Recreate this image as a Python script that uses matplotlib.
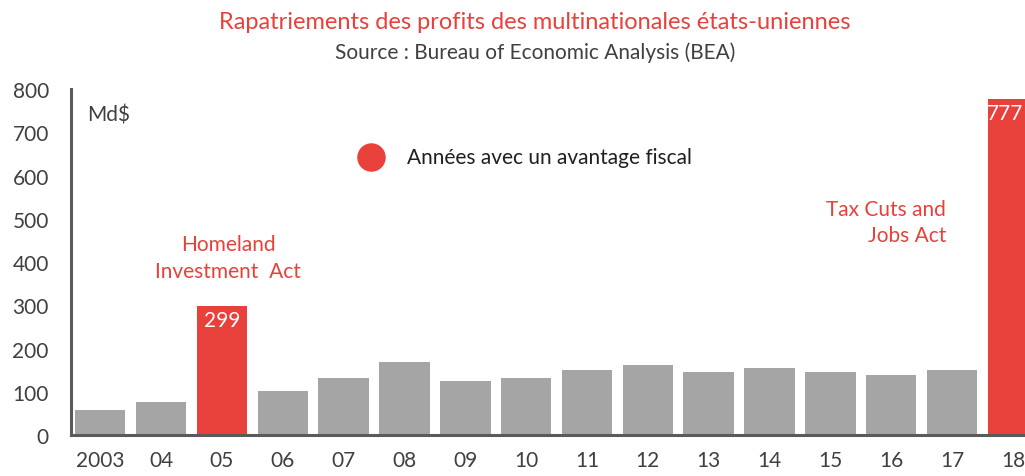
import matplotlib.pyplot as plt

# données (Md$)
annees = ['2003', '04', '05', '06', '07', '08', '09', '10', '11', '12',
          '13', '14', '15', '16', '17', '18']
valeurs = [58, 77, 299, 101, 132, 168, 125, 132, 150, 162,
           145, 156, 145, 139, 150, 777]
avantage = ['05', '18']

rouge = '#E8413C'
gris = '#A5A5A5'
plt.rcParams['font.family'] = ['Lato', 'DejaVu Sans']

fig = plt.figure(figsize=(10.25, 4.77), dpi=100)
ax = fig.add_axes([0.0693, 0.086, 0.9307, 0.725])

couleurs = [rouge if a in avantage else gris for a in annees]
x = list(range(len(annees)))
ax.bar(x, valeurs, width=0.83, color=couleurs)

ax.set_xlim(-0.48, 15.2)
ax.set_ylim(0, 800)
ax.set_yticks(range(0, 801, 100))
ax.set_xticks(x)
ax.set_xticklabels(annees)
ax.tick_params(length=0, labelsize=15, labelcolor='#404040')
ax.tick_params(axis='x', pad=11)
ax.tick_params(axis='y', pad=16)

for s in ['top', 'right']:
    ax.spines[s].set_visible(False)
for s in ['left', 'bottom']:
    ax.spines[s].set_color('#5a5a5a')
    ax.spines[s].set_linewidth(2.2)

# valeurs dans les barres rouges
for i, a in enumerate(annees):
    if a in avantage:
        xi = i - 0.12 if i == len(annees) - 1 else i
        ax.text(xi, valeurs[i] - 32, str(valeurs[i]), color='white', ha='center',
                va='center', fontsize=15)

ax.text(-0.22, 742, 'Md$', fontsize=15, color='#404040', va='center')
ax.text(2.1, 410, 'Homeland\nInvestment  Act', color=rouge, ha='center', va='center',
        fontsize=15, linespacing=1.45)
ax.text(13.9, 493, 'Tax Cuts and\nJobs Act', color=rouge, ha='right', va='center',
        fontsize=15, linespacing=1.4)

# légende
ax.scatter([4.45], [643], s=380, color=rouge)
ax.text(5.05, 643, 'Années avec un avantage fiscal', fontsize=15, color='#202020',
        va='center')

fig.text(0.522, 0.953, 'Rapatriements des profits des multinationales états-uniennes',
         color=rouge, fontsize=17, ha='center', va='center')
fig.text(0.522, 0.889, 'Source : Bureau of Economic Analysis (BEA)', color='#404040',
         fontsize=15, ha='center', va='center')

fig.savefig('out.png', dpi=100)
